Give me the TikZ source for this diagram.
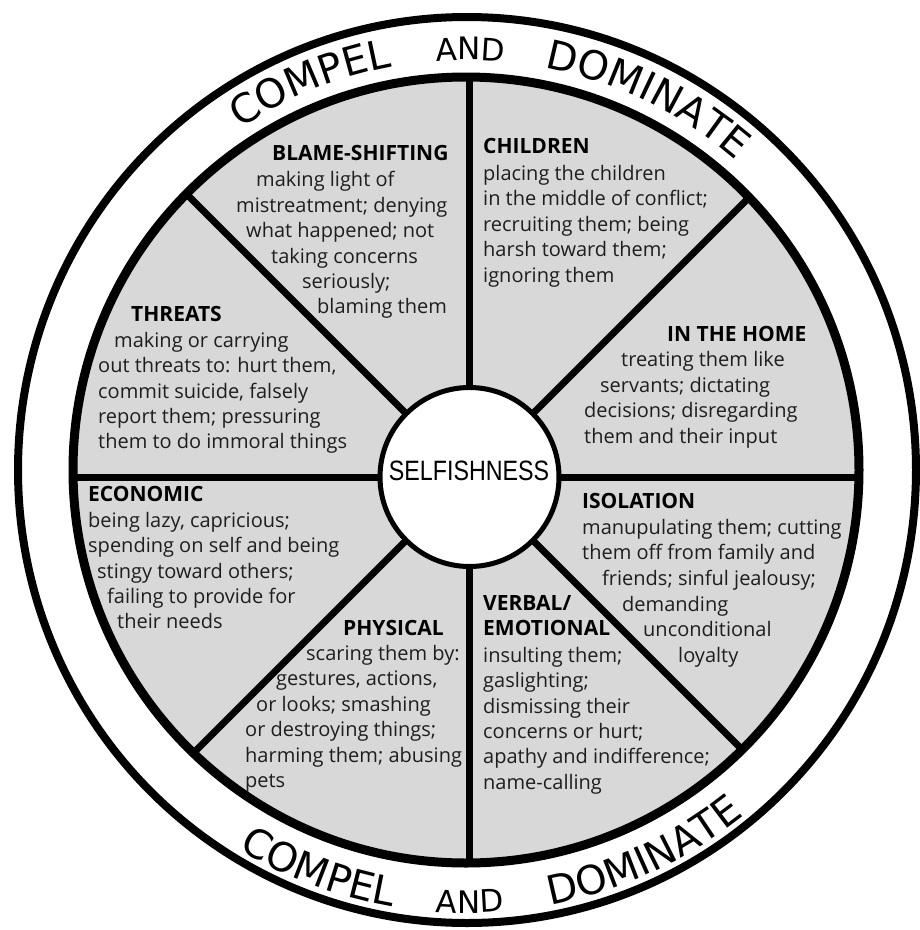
\documentclass[tikz,border=0pt]{standalone}
\usepackage{fontspec}
\usetikzlibrary{decorations.text}
\newfontfamily\bodyfont{Open Sans}
\newfontfamily\ringfont{DejaVu Sans}
\newfontfamily\corefont{Liberation Sans}
\definecolor{wheelgrey}{RGB}{216,216,216}
\definecolor{ink}{RGB}{30,30,30}
\tikzset{
  bodyline/.style={anchor=base west, inner sep=0pt, text=ink,
    font=\bodyfont\fontsize{20pt}{24pt}\selectfont},
  headline/.style={anchor=base west, inner sep=0pt, text=black,
    font=\bodyfont\bfseries\fontsize{21pt}{24pt}\selectfont},
  spoke/.style={line width=7pt},
}
% a word set along a circular arc around #1, from angle #2 to #3 at radius #4
\newcommand\ringword[6]{%
  \path[decorate, decoration={text along path, text align=center,
      text={|\ringfont\fontsize{#5pt}{#5pt}\selectfont|#6}}]
    (#1) ++(#2:#4) arc[start angle=#2, end angle=#3, radius=#4];
}
\begin{document}
\begin{tikzpicture}[x=1pt, y=1pt]
\useasboundingbox (0,0) rectangle (920,-930);
\fill[white] (0,0) rectangle (920,-930);

\coordinate (hub) at (467,-470);
\coordinate (wheel) at (466,-470);
\coordinate (corec) at (469.5,-477);

% outer band and grey wheel
\draw[line width=8pt] (hub) ellipse[x radius=449, y radius=453];
\fill[wheelgrey] (wheel) circle[radius=393];

% spokes between the sections
\begin{scope}
  \clip (wheel) circle[radius=393];
  \foreach \a in {0,45,...,315}
    \draw[spoke] (corec) -- ++(\a:430);
\end{scope}
\draw[line width=9pt] (wheel) circle[radius=393];

% hub
\node[circle, draw, line width=5pt, fill=white, minimum size=179pt, inner sep=0pt] (core) at (corec) {};
\node[anchor=base, inner sep=0pt, font=\corefont\fontsize{28pt}{28pt}\selectfont] (coretext) at (469,-480)
  {\scalebox{0.83}[1]{SELFISHNESS}};

% lettering in the band, top (tops outward) and bottom (tops inward)
\ringword{hub}{132}{92}{410}{40}{COMPEL}
\ringword{hub}{99.5}{79.5}{410}{31}{AND}
\ringword{hub}{84}{44}{410}{40}{DOMINATE}
\ringword{hub}{229.6}{269.6}{443}{40}{COMPEL}
\ringword{hub}{260.4}{280.4}{443}{31}{AND}
\ringword{hub}{274.8}{314.8}{443}{40}{DOMINATE}

% BLAME-SHIFTING
\node[headline] (bsh) at (272,-160) {BLAME-SHIFTING};
\node[bodyline] (bs1) at (256,-186) {making light of};
\node[bodyline] (bs2) at (236,-212) {mistreatment; denying};
\node[bodyline] (bs3) at (246,-237) {what happened; not};
\node[bodyline] (bs4) at (271,-263) {taking concerns};
\node[bodyline] (bs5) at (302,-288) {seriously;};
\node[bodyline] (bs6) at (317,-313) {blaming them};

% CHILDREN
\node[headline] (chh) at (483,-153) {CHILDREN};
\node[bodyline] (ch1) at (483,-180) {placing the children};
\node[bodyline] (ch2) at (483,-205) {in the middle of conflict;};
\node[bodyline] (ch3) at (483,-231) {recruiting them; being};
\node[bodyline] (ch4) at (483,-256) {harsh toward them;};
\node[bodyline] (ch5) at (483,-282) {ignoring them};

% THREATS
\node[headline] (thh) at (131,-321) {THREATS};
\node[bodyline] (th1) at (114,-347) {making or carrying};
\node[bodyline] (th2) at (98,-372) {out threats to: hurt them,};
\node[bodyline] (th3) at (98,-398) {commit suicide, falsely};
\node[bodyline] (th4) at (98,-423) {report them; pressuring};
\node[bodyline] (th5) at (98,-448) {them to do immoral things};

% IN THE HOME
\node[headline] (hmh) at (667,-341) {IN THE HOME};
\node[bodyline] (hm1) at (621,-366) {treating them like};
\node[bodyline] (hm2) at (600,-392) {servants; dictating};
\node[bodyline] (hm3) at (584,-417) {decisions; disregarding};
\node[bodyline] (hm4) at (584,-443) {them and their input};

% ECONOMIC
\node[headline] (ech) at (88,-501) {ECONOMIC};
\node[bodyline] (ec1) at (88,-527) {being lazy, capricious;};
\node[bodyline] (ec2) at (88,-552) {spending on self and being};
\node[bodyline] (ec3) at (97,-578) {stingy toward others;};
\node[bodyline] (ec4) at (107,-603) {failing to provide for};
\node[bodyline] (ec5) at (117,-628) {their needs};

% ISOLATION
\node[headline] (ish) at (582,-508) {ISOLATION};
\node[bodyline] (is1) at (582,-534) {manupulating them; cutting};
\node[bodyline] (is2) at (582,-559) {them off from family and};
\node[bodyline] (is3) at (602,-585) {friends; sinful jealousy;};
\node[bodyline] (is4) at (622,-611) {demanding};
\node[bodyline] (is5) at (643,-636) {unconditional};
\node[bodyline] (is6) at (678,-662) {loyalty};

% VERBAL/EMOTIONAL
\node[headline] (vbh) at (483,-610) {VERBAL/};
\node[headline] (vbh2) at (483,-635) {EMOTIONAL};
\node[bodyline] (vb1) at (483,-662) {insulting them;};
\node[bodyline] (vb2) at (483,-687) {gaslighting;};
\node[bodyline] (vb3) at (483,-713) {dismissing their};
\node[bodyline] (vb4) at (483,-738) {concerns or hurt;};
\node[bodyline] (vb5) at (483,-763) {apathy and indifference;};
\node[bodyline] (vb6) at (483,-789) {name-calling};

% PHYSICAL
\node[headline] (phh) at (343,-635) {PHYSICAL};
\node[bodyline] (ph1) at (306,-660) {scaring them by:};
\node[bodyline] (ph2) at (276,-685) {gestures, actions,};
\node[bodyline] (ph3) at (256,-711) {or looks; smashing};
\node[bodyline] (ph4) at (245,-736) {or destroying things;};
\node[bodyline] (ph5) at (245,-762) {harming them; abusing};
\node[bodyline] (ph6) at (245,-787) {pets};
\end{tikzpicture}
\end{document}
